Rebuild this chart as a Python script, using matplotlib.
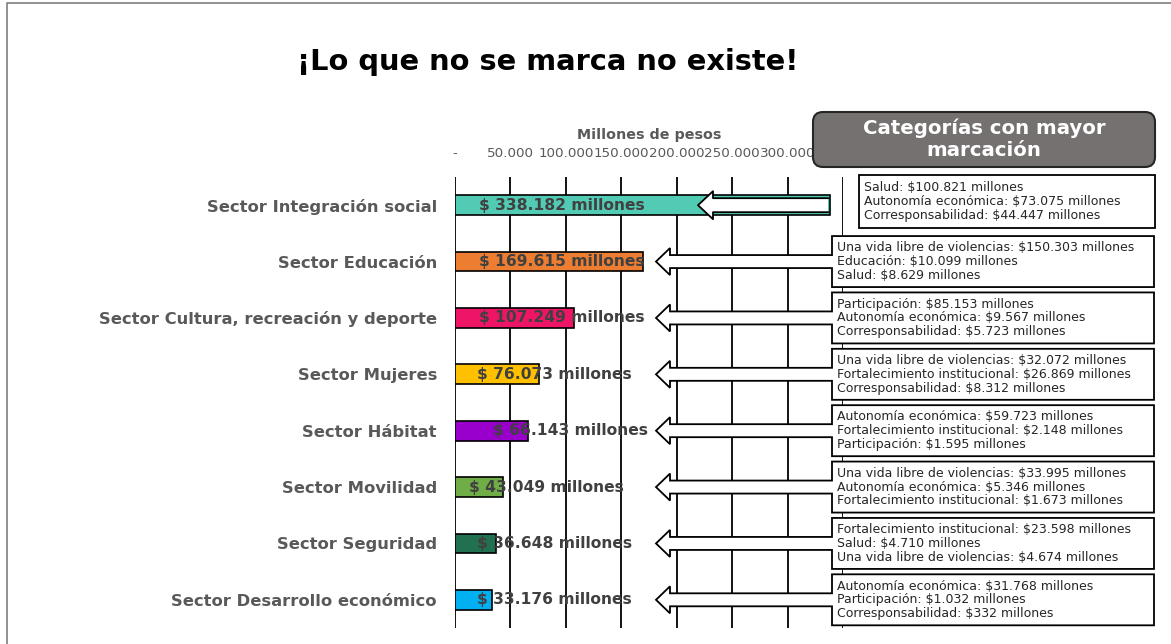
import numpy as np
import matplotlib
matplotlib.use('Agg')
import matplotlib.pyplot as plt
from matplotlib.patches import Polygon, FancyBboxPatch
from matplotlib.ticker import FuncFormatter

# ── data ──
sectors = [
    'Sector Integración social',
    'Sector Educación',
    'Sector Cultura, recreación y deporte',
    'Sector Mujeres',
    'Sector Hábitat',
    'Sector Movilidad',
    'Sector Seguridad',
    'Sector Desarrollo económico',
]
amounts = [338182, 169615, 107249, 76073, 66143, 43049, 36648, 33176]
value_labels = ['$ 338.182 millones', '$ 169.615 millones', '$ 107.249 millones',
                '$ 76.073 millones', '$ 66.143 millones', '$ 43.049 millones',
                '$ 36.648 millones', '$ 33.176 millones']
top_categories = [
    ['Salud: $100.821 millones', 'Autonomía económica: $73.075 millones',
     'Corresponsabilidad: $44.447 millones'],
    ['Una vida libre de violencias: $150.303 millones', 'Educación: $10.099 millones',
     'Salud: $8.629 millones'],
    ['Participación: $85.153 millones', 'Autonomía económica: $9.567 millones',
     'Corresponsabilidad: $5.723 millones'],
    ['Una vida libre de violencias: $32.072 millones',
     'Fortalecimiento institucional: $26.869 millones',
     'Corresponsabilidad: $8.312 millones'],
    ['Autonomía económica: $59.723 millones',
     'Fortalecimiento institucional: $2.148 millones',
     'Participación: $1.595 millones'],
    ['Una vida libre de violencias: $33.995 millones', 'Autonomía económica: $5.346 millones',
     'Fortalecimiento institucional: $1.673 millones'],
    ['Fortalecimiento institucional: $23.598 millones', 'Salud: $4.710 millones',
     'Una vida libre de violencias: $4.674 millones'],
    ['Autonomía económica: $31.768 millones', 'Participación: $1.032 millones',
     'Corresponsabilidad: $332 millones'],
]

# ── styles / layout ──
BAR_COLORS = ['#52CBB4', '#ED7D31', '#EE1566', '#FFC000', '#9900CC',
              '#70AD47', '#21704F', '#00B0F0']
LABEL_X = [21500, 21500, 21500, 19800, 34300, 12600, 19800, 19800]  # manual label starts
XMAX = 350000
GRAY = '#595959'
TXT = '#404040'
W, H = 1171, 644

fig = plt.figure(figsize=(W / 100, H / 100), dpi=100)
fig.patch.set_facecolor('white')

ax = fig.add_axes([455 / W, 1 - 628 / H, (843 - 455) / W, (628 - 177) / H])
y = np.arange(len(sectors))
ax.barh(y, amounts, height=0.35, color=BAR_COLORS, edgecolor='black',
        linewidth=1.2, zorder=2)
for i in range(len(sectors)):
    ax.text(LABEL_X[i], y[i], value_labels[i], ha='left', va='center',
            fontsize=11.2, fontweight='bold', color=TXT, zorder=3)


def fmt_tick(v, p):
    if v == 0:
        return '-'
    if v >= XMAX:
        return ''  # sits under the header box anyway
    return f'{int(v):,}'.replace(',', '.')


ax.set_xlim(0, XMAX)
ax.set_ylim(len(sectors) - 0.5, -0.5)
ax.set_xticks(np.arange(0, XMAX + 1, 50000))
ax.xaxis.set_major_formatter(FuncFormatter(fmt_tick))
ax.xaxis.tick_top()
ax.xaxis.set_label_position('top')
ax.set_xlabel('Millones de pesos', fontsize=10.3, fontweight='bold', color=GRAY,
              labelpad=6)
ax.tick_params(axis='x', length=0, pad=12, labelsize=9.7, labelcolor=GRAY)
ax.set_yticks(y)
ax.set_yticklabels(sectors, fontsize=11.8, fontweight='bold', color=GRAY)
ax.tick_params(axis='y', length=0, pad=13)
ax.xaxis.grid(True, color='black', linewidth=1.3, zorder=0)
ax.set_axisbelow(True)
for s in ax.spines.values():
    s.set_visible(False)

# ── overlay in pixel coordinates for title, frame and callouts ──
ov = fig.add_axes([0, 0, 1, 1])
ov.set_xlim(0, W)
ov.set_ylim(H, 0)
ov.axis('off')
ov.patch.set_visible(False)

# chart frame (extends past the image on right/bottom)
ov.plot([7, 7, W + 5], [H + 5, 3, 3], color='#7F7F7F', linewidth=1.2)

ov.text(548, 62, '¡Lo que no se marca no existe!', ha='center', va='center',
        fontsize=20.8, fontweight='bold', color='black')

# header box
ov.add_patch(FancyBboxPatch((813, 112), 342, 55,
                            boxstyle='round,pad=0,rounding_size=10',
                            facecolor='#767171', edgecolor='#262626', linewidth=1.5))
ov.text(984, 139.5, 'Categorías con mayor\nmarcación', ha='center', va='center',
        fontsize=14.2, fontweight='bold', color='white', linespacing=1.22)

to_px = lambda xv, yv: ov.transData.inverted().transform(ax.transData.transform((xv, yv)))

for i, lines in enumerate(top_categories):
    yc = to_px(0, y[i])[1]
    if i == 0:
        # first callout: arrow drawn across the bar, box shifted right
        L, R, top, bot = 859, 1155, 175, 228
        tip, base, sh, hh, shaft_end = 698, 713, 7, 14, 828
        arr = [(shaft_end, yc - sh), (base, yc - sh), (base, yc - hh), (tip, yc),
               (base, yc + hh), (base, yc + sh), (shaft_end, yc + sh)]
        ov.add_patch(Polygon(arr, closed=True, facecolor='white', edgecolor='none'))
        xs, ys = zip(*arr)
        ov.plot(xs, ys, color='black', linewidth=1.3)
        ov.add_patch(Polygon([(L, top), (R, top), (R, bot), (L, bot)], closed=True,
                             facecolor='white', edgecolor='black', linewidth=1.3))
    else:
        L, R = 832, 1154
        top, bot = yc - 25.5, yc + 25.5
        tip, base, sh, hh = 656, 670, 6.5, 13.5
        shape = [(L, top), (R, top), (R, bot), (L, bot), (L, yc + sh), (base, yc + sh),
                 (base, yc + hh), (tip, yc), (base, yc - hh), (base, yc - sh),
                 (L, yc - sh)]
        ov.add_patch(Polygon(shape, closed=True, facecolor='white',
                             edgecolor='black', linewidth=1.3))
    ov.text(L + 5, (top + bot) / 2, '\n'.join(lines), ha='left', va='center',
            fontsize=9.0, color='#262626', linespacing=1.08)

fig.savefig('out.png', dpi=100, facecolor='white')
